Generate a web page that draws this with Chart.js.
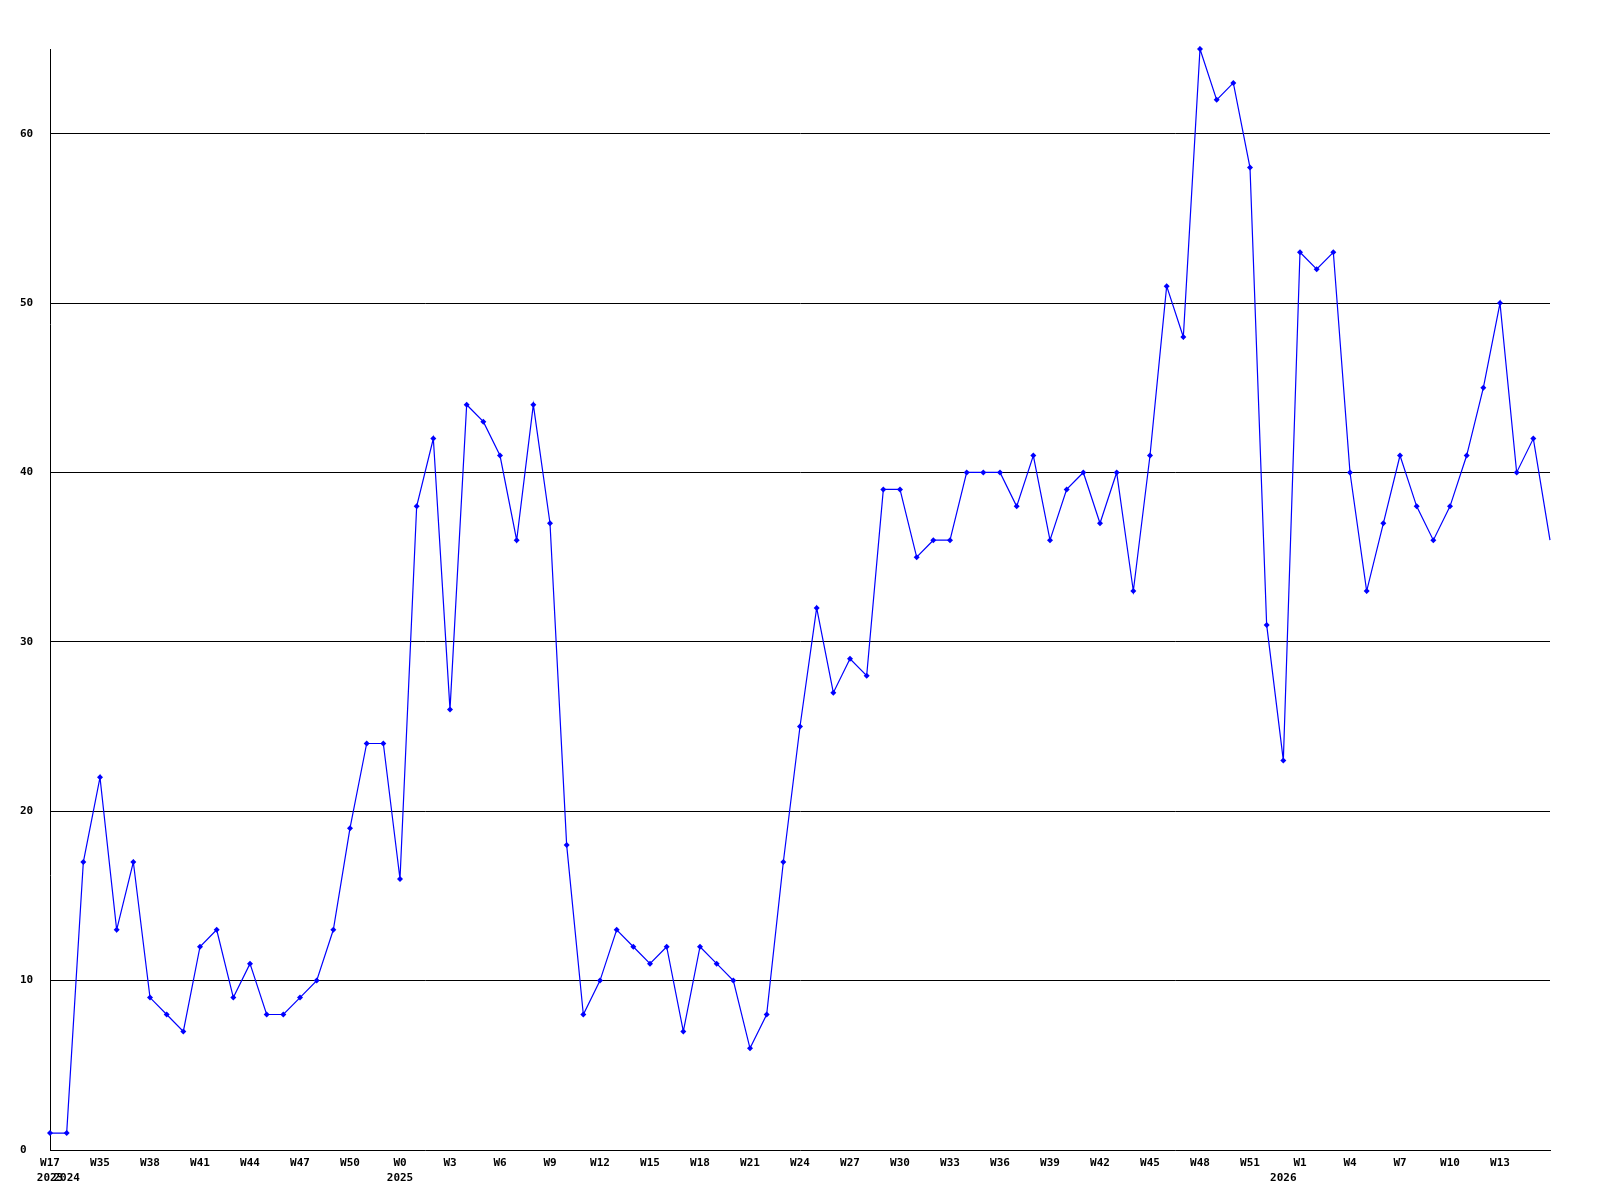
<!DOCTYPE html>
<html>
<head>
<meta charset="utf-8">
<script src="https://cdn.jsdelivr.net/npm/chart.js@4.4.1/dist/chart.umd.min.js"></script>
<style>
  html, body { margin: 0; padding: 0; background: #ffffff; }
  #c { display: block; }
</style>
</head>
<body>
<canvas id="c" width="1600" height="1200"></canvas>
<script>
// Week labels (one per point)
const weeks = [
  'W17',
  'W33','W34','W35','W36','W37','W38','W39','W40','W41','W42','W43','W44','W45','W46','W47','W48','W49','W50','W51','W52',
  'W0','W1','W2','W3','W4','W5','W6','W7','W8','W9','W10','W11','W12','W13','W14','W15','W16','W17','W18','W19','W20',
  'W21','W22','W23','W24','W25','W26','W27','W28','W29','W30','W31','W32','W33','W34','W35','W36','W37','W38','W39','W40',
  'W41','W42','W43','W44','W45','W46','W47','W48','W49','W50','W51','W52',
  'W0','W1','W2','W3','W4','W5','W6','W7','W8','W9','W10','W11','W12','W13','W14','W15','W16'
];
// Year of each point
const years = [
  2023,
  2024,2024,2024,2024,2024,2024,2024,2024,2024,2024,2024,2024,2024,2024,2024,2024,2024,2024,2024,2024,
  2025,2025,2025,2025,2025,2025,2025,2025,2025,2025,2025,2025,2025,2025,2025,2025,2025,2025,2025,2025,2025,
  2025,2025,2025,2025,2025,2025,2025,2025,2025,2025,2025,2025,2025,2025,2025,2025,2025,2025,2025,2025,
  2025,2025,2025,2025,2025,2025,2025,2025,2025,2025,2025,2025,
  2026,2026,2026,2026,2026,2026,2026,2026,2026,2026,2026,2026,2026,2026,2026,2026,2026
];
// Series values
const values = [
  1,
  1,17,22,13,17,9,8,7,12,13,9,11,8,8,9,10,13,19,24,24,
  16,38,42,26,44,43,41,36,44,37,18,8,10,13,12,11,12,7,12,11,10,
  6,8,17,25,32,27,29,28,39,39,35,36,36,40,40,40,38,41,36,39,
  40,37,40,33,41,51,48,65,62,63,58,31,
  23,53,52,53,40,33,37,41,38,36,38,41,45,50,40,42,36
];
// Y axis
const yMin = 0;
const yMax = 65;
const yStep = 10;

const labels = weeks.map((w, i) => w + ' ' + years[i]);
const FONT = { family: '"DejaVu Sans Mono", monospace', size: 11, weight: 'bold', lineHeight: 1.36 };

const whiteBg = {
  id: 'whiteBg',
  beforeDraw(chart) {
    const ctx = chart.ctx;
    ctx.save();
    ctx.fillStyle = '#ffffff';
    ctx.fillRect(0, 0, chart.width, chart.height);
    ctx.restore();
  }
};

new Chart(document.getElementById('c'), {
  type: 'line',
  data: {
    labels: labels,
    datasets: [{
      data: values,
      borderColor: '#0000ff',
      backgroundColor: '#0000ff',
      borderWidth: 1.2,
      tension: 0,
      fill: false,
      clip: false,
      pointStyle: 'rectRot',
      pointRadius: ctx => ctx.dataIndex === values.length - 1 ? 0 : 3,
      pointBorderWidth: 0,
      pointHoverRadius: 3
    }]
  },
  options: {
    responsive: false,
    animation: false,
    devicePixelRatio: 1,
    layout: { padding: { top: 49, left: 20, right: 50, bottom: 0 } },
    plugins: { legend: { display: false }, tooltip: { enabled: false }, title: { display: false } },
    scales: {
      x: {
        type: 'category',
        offset: false,
        grid: { display: false, drawTicks: false },
        border: { display: true, color: '#000000', width: 1 },
        ticks: {
          autoSkip: false,
          maxRotation: 0,
          minRotation: 0,
          padding: 6,
          color: '#000000',
          font: FONT,
          callback: function (value, index) {
            const last = index === weeks.length - 1;
            const w = (index % 3 === 0 && !last) ? weeks[index] : '';
            const y = (index === 0 || years[index] !== years[index - 1]) ? String(years[index]) : '';
            return [w, y];
          }
        },
        afterFit: s => { s.height = 50; }
      },
      y: {
        type: 'linear',
        min: yMin,
        max: yMax,
        grid: {
          display: true,
          drawTicks: false,
          color: ctx => (ctx.tick && ctx.tick.value > 0) ? '#000000' : 'rgba(0,0,0,0)',
          lineWidth: 1
        },
        border: { display: true, color: '#000000', width: 1 },
        ticks: {
          stepSize: yStep,
          includeBounds: false,
          crossAlign: 'far',
          color: '#000000',
          font: FONT
        },
        afterFit: s => { s.width = 30; }
      }
    }
  },
  plugins: [whiteBg]
});
</script>
</body>
</html>
